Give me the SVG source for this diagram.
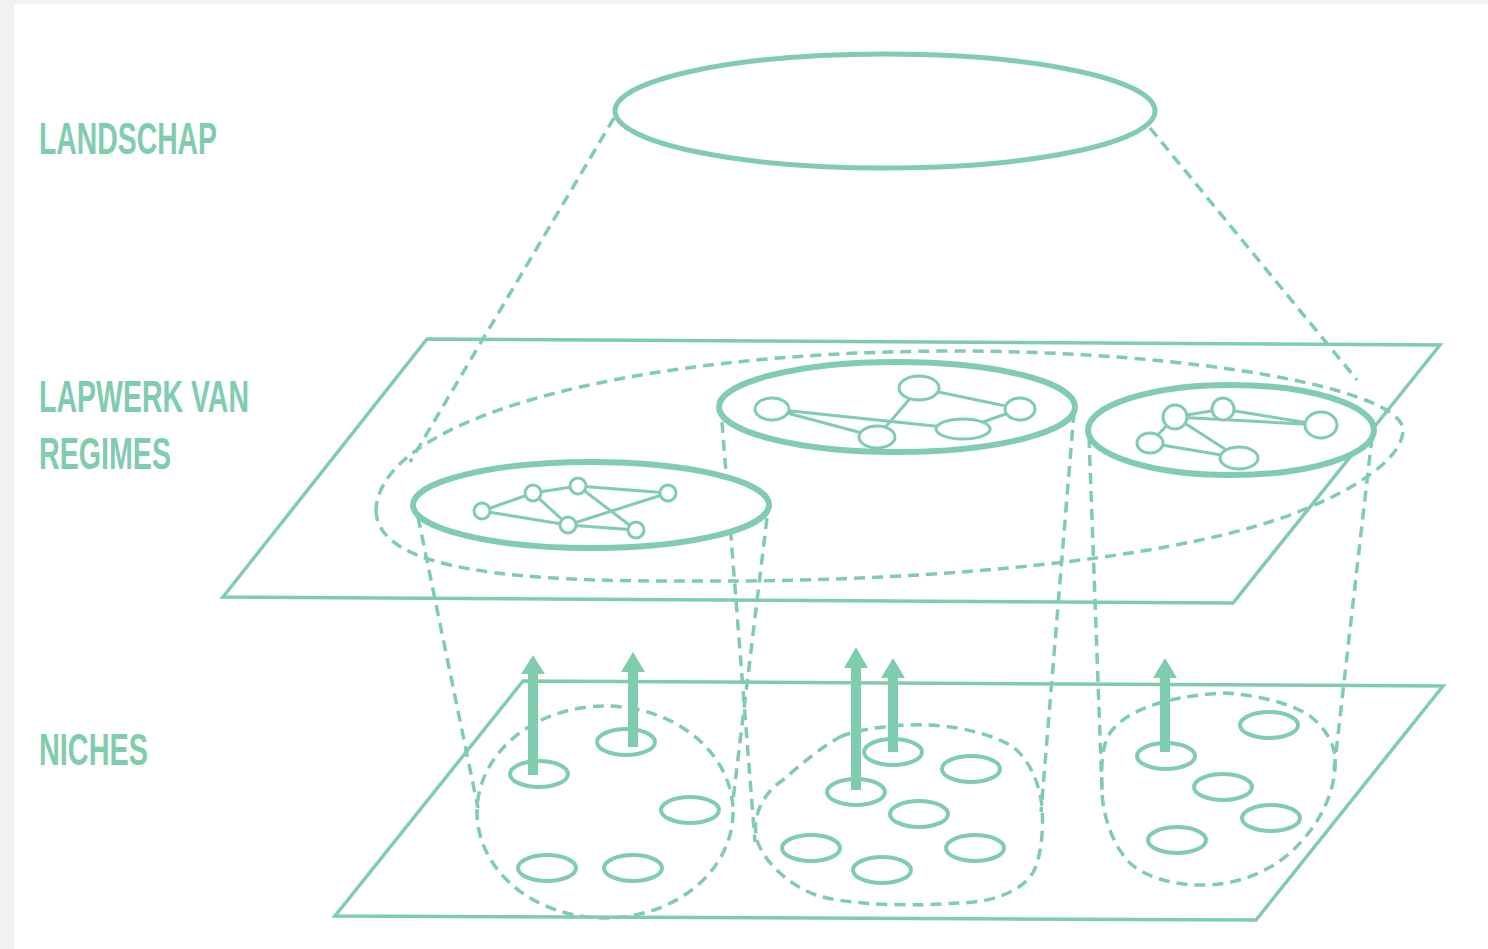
<svg xmlns="http://www.w3.org/2000/svg" width="1488" height="949" viewBox="0 0 1488 949">
<style>
.lbl{font-family:"Liberation Sans",Arial,sans-serif;font-weight:bold;font-size:44px;fill:#80CCAE}
.pl{fill:none;stroke:#80CCAE;stroke-width:3.5;stroke-linejoin:miter}
.dash{fill:none;stroke:#80CCAE;stroke-width:3.5;stroke-dasharray:11 7}
.reg{fill:#fff;stroke:#80CCAE;stroke-width:6}
.land{fill:none;stroke:#80CCAE;stroke-width:5}
.edge{stroke:#80CCAE;stroke-width:3;fill:none}
.node{fill:#fff;stroke:#80CCAE;stroke-width:3}
.niche{fill:#fff;stroke:#80CCAE;stroke-width:4}
.shaft{stroke:#80CCAE;stroke-width:10}
.head{fill:#80CCAE}
</style>
<rect x="0" y="0" width="1488" height="949" fill="#EFF1F3"/>
<rect x="14" y="4" width="1474" height="945" fill="#FFFFFF"/>

<g id="labels">
<text class="lbl" x="39" y="154" textLength="178" lengthAdjust="spacingAndGlyphs">LANDSCHAP</text>
<text class="lbl" x="39" y="412" textLength="210" lengthAdjust="spacingAndGlyphs">LAPWERK VAN</text>
<text class="lbl" x="39" y="469" textLength="132" lengthAdjust="spacingAndGlyphs">REGIMES</text>
<text class="lbl" x="39" y="765" textLength="109" lengthAdjust="spacingAndGlyphs">NICHES</text>
</g>

<g id="niche-plane">
<polygon class="pl" points="523,681 1443,686 1256,920 335,916"/>
</g>
<g id="regime-plane">
<polygon class="pl" points="427,339 1440,345 1233,603 223,597"/>
</g>

<g id="landscape">
<ellipse class="land" cx="885" cy="111" rx="270" ry="57"/>
</g>

<g id="regime-patchwork">
<path class="dash" d="M376,512 C376,420 620,352 950,351 C1200,351 1403,390 1403,430 C1403,465 1330,505 1253,527 C1120,565 900,582 700,581 C520,582 380,572 376,512 Z"/>
</g>

<g id="connectors">
<line class="dash" x1="614" y1="118" x2="410" y2="462"/>
<line class="dash" x1="1150" y1="128" x2="1357" y2="380"/>
<line class="dash" x1="418" y1="517" x2="478" y2="808"/>
<line class="dash" x1="767" y1="518" x2="733" y2="800"/>
<line class="dash" x1="722" y1="422" x2="755" y2="842"/>
<line class="dash" x1="1074" y1="412" x2="1041" y2="812"/>
<line class="dash" x1="1089" y1="437" x2="1102" y2="790"/>
<line class="dash" x1="1372" y1="437" x2="1334" y2="770"/>
</g>

<g id="regime-1">
<ellipse class="reg" cx="591" cy="505" rx="178" ry="43"/>
<path class="edge" d="M482,511 L533,493 L578,486 L668,493 M482,511 L568,525 M533,493 L568,525 M578,486 L636,530 M568,525 L668,493 M568,525 L636,530"/>
<circle class="node" cx="482" cy="511" r="8"/>
<circle class="node" cx="533" cy="493" r="8"/>
<circle class="node" cx="578" cy="486" r="8"/>
<circle class="node" cx="668" cy="493" r="8"/>
<circle class="node" cx="568" cy="525" r="8"/>
<circle class="node" cx="636" cy="530" r="8"/>
</g>

<g id="regime-2">
<ellipse class="reg" cx="897" cy="407" rx="178" ry="45"/>
<path class="edge" d="M772,409 L877,437 M772,409 L963,429 M919,388 L877,437 M919,388 L1020,409 M1020,409 L963,429"/>
<ellipse class="node" cx="772" cy="409" rx="17" ry="11"/>
<ellipse class="node" cx="919" cy="388" rx="20" ry="12"/>
<ellipse class="node" cx="1020" cy="409" rx="15" ry="11"/>
<ellipse class="node" cx="877" cy="437" rx="18" ry="11"/>
<ellipse class="node" cx="963" cy="429" rx="27" ry="10"/>
</g>

<g id="regime-3">
<ellipse class="reg" cx="1231" cy="430" rx="143" ry="45"/>
<path class="edge" d="M1175,417 L1223,409 L1321,425 L1175,417 M1175,417 L1150,443 M1175,417 L1239,458 M1150,443 L1239,458"/>
<circle class="node" cx="1175" cy="417" r="12"/>
<circle class="node" cx="1223" cy="409" r="11"/>
<ellipse class="node" cx="1321" cy="425" rx="16" ry="13"/>
<ellipse class="node" cx="1150" cy="443" rx="13" ry="10"/>
<ellipse class="node" cx="1239" cy="458" rx="19" ry="11"/>
</g>

<g id="niche-group-1">
<ellipse class="dash" cx="605" cy="812" rx="128" ry="106"/>
<ellipse class="niche" cx="539" cy="774" rx="29" ry="13"/>
<ellipse class="niche" cx="626" cy="742" rx="29" ry="13"/>
<ellipse class="niche" cx="690" cy="810" rx="29" ry="13"/>
<ellipse class="niche" cx="547" cy="868" rx="29" ry="13"/>
<ellipse class="niche" cx="633" cy="868" rx="29" ry="13"/>
</g>

<g id="niche-group-2">
<path class="dash" d="M840,737 C860,728 900,724 927,725 C960,726 995,735 1013,747 C1030,760 1040,785 1042,807 C1044,835 1040,865 1030,877 C1015,895 985,903 957,903 C920,906 860,906 823,897 C795,890 765,865 757,840 C752,820 760,795 783,780 C800,765 820,748 840,737 Z"/>
<ellipse class="niche" cx="893" cy="752" rx="29" ry="13"/>
<ellipse class="niche" cx="971" cy="769" rx="29" ry="13"/>
<ellipse class="niche" cx="856" cy="792" rx="29" ry="13"/>
<ellipse class="niche" cx="919" cy="814" rx="29" ry="13"/>
<ellipse class="niche" cx="811" cy="848" rx="29" ry="13"/>
<ellipse class="niche" cx="975" cy="848" rx="29" ry="13"/>
<ellipse class="niche" cx="882" cy="870" rx="29" ry="13"/>
</g>

<g id="niche-group-3">
<path class="dash" d="M1223,693 C1250,694 1290,702 1310,716 C1330,732 1337,750 1335,768 C1333,800 1315,830 1290,853 C1265,875 1230,886 1200,885 C1170,885 1140,875 1127,860 C1110,840 1102,810 1102,790 C1101,765 1102,745 1110,733 C1125,712 1160,697 1223,693 Z"/>
<ellipse class="niche" cx="1166" cy="756" rx="29" ry="13"/>
<ellipse class="niche" cx="1269" cy="725" rx="29" ry="13"/>
<ellipse class="niche" cx="1223" cy="787" rx="29" ry="13"/>
<ellipse class="niche" cx="1271" cy="818" rx="29" ry="13"/>
<ellipse class="niche" cx="1177" cy="840" rx="29" ry="13"/>
</g>

<g id="arrows">
<line class="shaft" x1="533" y1="775" x2="533" y2="671"/>
<polygon class="head" points="533,655 545,674 521,674"/>
<line class="shaft" x1="633" y1="747" x2="633" y2="670"/>
<polygon class="head" points="633,652 645,672 621,672"/>
<line class="shaft" x1="856" y1="790" x2="856" y2="666"/>
<polygon class="head" points="856,647 868,668 844,668"/>
<line class="shaft" x1="893" y1="752" x2="893" y2="676"/>
<polygon class="head" points="893,658 905,678 881,678"/>
<line class="shaft" x1="1165" y1="752" x2="1165" y2="676"/>
<polygon class="head" points="1165,658 1177,678 1153,678"/>
</g>
</svg>
